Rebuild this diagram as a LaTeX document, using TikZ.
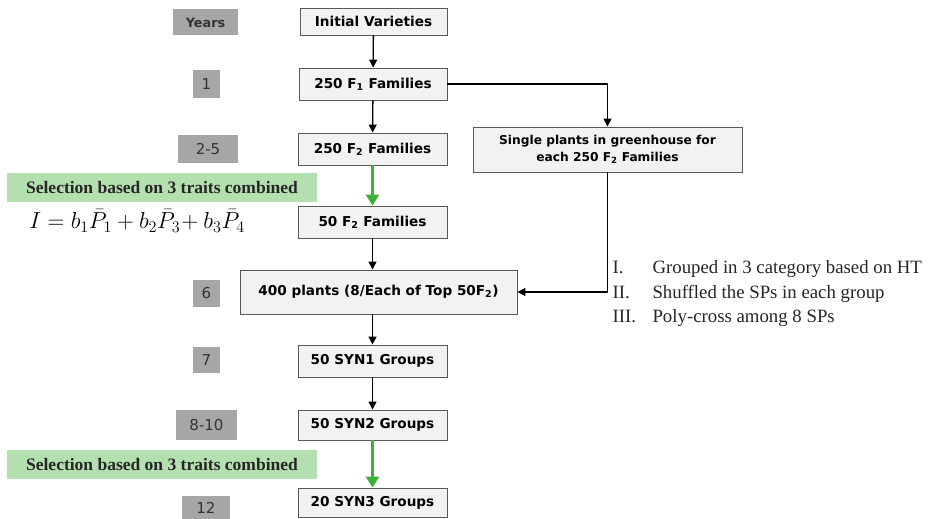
\documentclass[tikz,border=0pt]{standalone}
\usepackage{fontspec}
\setmainfont{Liberation Serif}
\newfontfamily\verd{DejaVu Sans}
\usetikzlibrary{arrows.meta}
\definecolor{boxfill}{HTML}{F2F2F2}
\definecolor{boxdraw}{HTML}{595959}
\definecolor{yearfill}{HTML}{A6A6A6}
\definecolor{yeartext}{HTML}{333333}
\definecolor{selfill}{HTML}{B4DFAF}
\definecolor{garrow}{HTML}{3DAE36}
\tikzset{
  mainbox/.style={draw=boxdraw, fill=boxfill, line width=0.9pt, inner sep=0pt,
    font=\verd\bfseries\fontsize{13.6}{16}\selectfont, text=black},
  yearbox/.style={fill=yearfill, inner sep=0pt, text=yeartext,
    font=\verd\fontsize{15}{17}\selectfont},
  selbox/.style={fill=selfill, inner sep=0pt, minimum width=310, minimum height=29,
    font=\bfseries\fontsize{17.5}{20}\selectfont, text=black!85},
  arr/.style={line width=1.3pt, -{Triangle[length=8pt,width=8pt]}},
  garr/.style={line width=3.5pt, garrow, -{Triangle[length=11pt,width=13pt]}},
}
\begin{document}
\begin{tikzpicture}[x=1pt,y=-1pt]
\useasboundingbox (0,0) rectangle (930,519);
\fill[white] (0,0) rectangle (930,519);

% main column
\node[mainbox, minimum width=147, minimum height=27] (iv) at (373.5,21.5) {Initial Varieties};
\node[mainbox, minimum width=148, minimum height=32] (f1) at (373,84) {250 F\textsubscript{1} Families};
\node[mainbox, minimum width=149, minimum height=32] (f2) at (372.5,149) {250 F\textsubscript{2} Families};
\node[mainbox, minimum width=149, minimum height=32] (f2b) at (372.5,222) {50 F\textsubscript{2} Families};
\node[mainbox, minimum width=277, minimum height=44] (p400) at (378.5,292) {400 plants (8/Each of Top 50F\textsubscript{2})};
\node[mainbox, minimum width=149, minimum height=32] (syn1) at (372.5,361) {50 SYN1 Groups};
\node[mainbox, minimum width=149, minimum height=30] (syn2) at (372.5,425) {50 SYN2 Groups};
\node[mainbox, minimum width=149, minimum height=29] (syn3) at (372.5,502.5) {20 SYN3 Groups};
\node[mainbox, font=\verd\bfseries\fontsize{12.2}{16.5}\selectfont, minimum width=269, minimum height=45, align=center] (sp) at (607.5,149.5)
  {Single plants in greenhouse for\\each 250 F\textsubscript{2} Families};

% years
\node[yearbox, font=\verd\bfseries\fontsize{12.8}{15}\selectfont, minimum width=65, minimum height=26] (years) at (205.5,22.5) {Years};
\node[yearbox, minimum width=27, minimum height=28] (y1) at (206.5,84) {1};
\node[yearbox, minimum width=60, minimum height=28] (y25) at (208,149) {2-5};
\node[yearbox, minimum width=27, minimum height=27] (y6) at (206.5,293.5) {6};
\node[yearbox, minimum width=27, minimum height=26] (y7) at (206.5,360) {7};
\node[yearbox, minimum width=61, minimum height=30] (y810) at (206.5,425) {8-10};
\node[yearbox, minimum width=48, minimum height=23] (y12) at (206,507.5) {12};

% selection
\node[selbox] (sel1) at (162,187.5) {Selection based on 3 traits combined};
\node[selbox] (sel2) at (162,464.5) {Selection based on 3 traits combined};
\node[font=\fontsize{20.74}{24}\selectfont] (formula) at (137,221)
  {\scalebox{1.12}{$I = b_1\bar{P}_1 + b_2\bar{P}_3\!+ b_3\bar{P}_4$}};

% list
\node[anchor=west, align=left, font=\fontsize{18.8}{24.5}\selectfont, text=black!85] (list) at (609,294)
  {\makebox[40pt][l]{I.}Grouped in 3 category based on HT\\
   \makebox[40pt][l]{II.}Shuffled the SPs in each group\\
   \makebox[40pt][l]{III.}Poly-cross among 8 SPs};

% connectors
\draw[arr] (iv) -- (f1);
\draw[arr] (f1) -- (f2);
\draw[garr] (f2) -- (f2b);
\draw[arr] (f2b.south) -- (f2b.south |- p400.north);
\draw[arr] (p400.south -| syn1.north) -- (syn1.north);
\draw[arr] (syn1) -- (syn2);
\draw[garr] (syn2) -- (syn3);
\draw[arr] (f1.east) -| (sp.north);
\draw[arr] (sp.south) |- (p400.east);
\end{tikzpicture}
\end{document}
